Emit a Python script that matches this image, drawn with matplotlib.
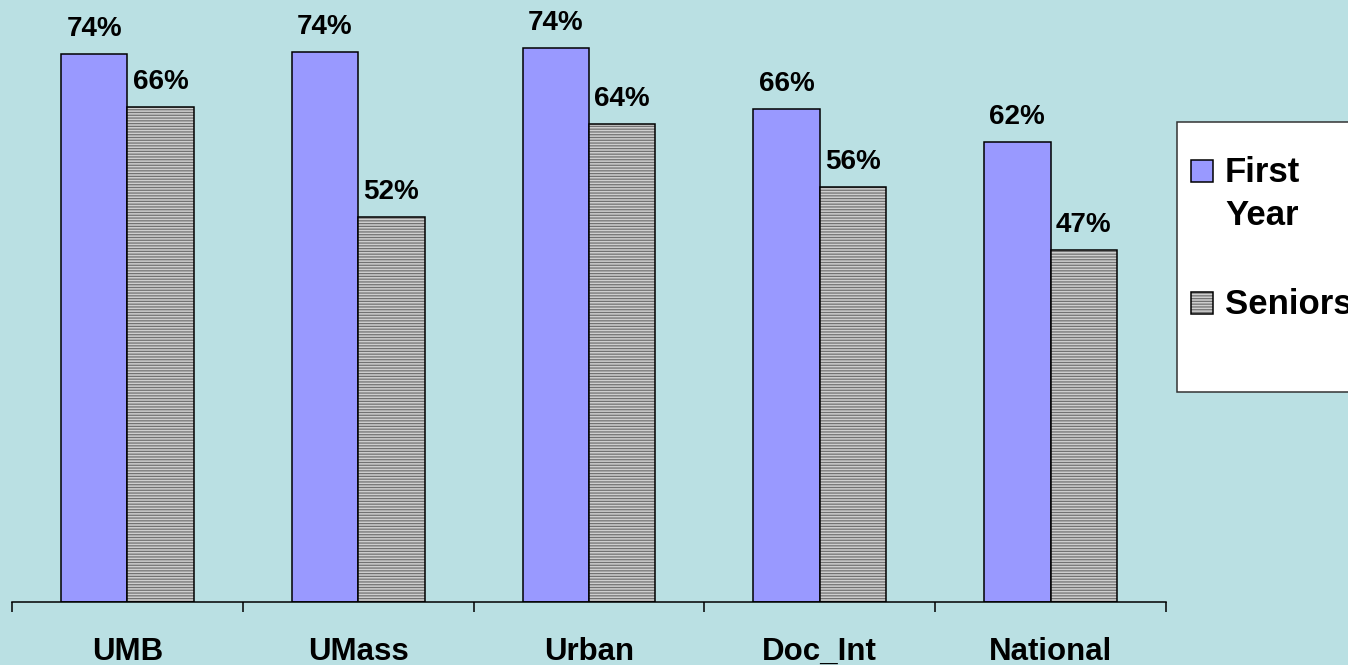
import numpy as np
import matplotlib.pyplot as plt
from matplotlib.patches import Rectangle

plt.rcParams['font.family'] = ['Liberation Sans', 'DejaVu Sans']
plt.rcParams['hatch.linewidth'] = 0.9

categories = ['UMB', 'UMass', 'Urban', 'Doc_Int', 'National']
first_year = [73.6, 73.8, 74.4, 66.2, 61.7]
seniors = [66.4, 51.7, 64.2, 55.7, 47.2]
first_labels = ['74%', '74%', '74%', '66%', '62%']
senior_labels = ['66%', '52%', '64%', '56%', '47%']
series_names = ['First\nYear', 'Seniors']

bg = '#BAE0E3'
blue = '#9999FF'
grey_face = '#CFCFCF'
grey_hatch = '#727272'
W, H = 1348, 665


def px(x, y):
    # pixel position (from top-left) to figure fraction
    return x / W, 1 - y / H


def main():
    fig = plt.figure(figsize=(W / 100, H / 100), dpi=100, facecolor=bg)
    ax = fig.add_axes([12 / W, 63 / H, (1166 - 12) / W, (602 - 6) / H])
    ax.set_facecolor('none')

    x = np.arange(len(categories))
    w = 0.288
    off = 0.144

    ax.bar(x - off, first_year, w, color=blue, edgecolor='black', linewidth=1.1, zorder=2)
    # seniors: hatched fill first, black outline on top
    ax.bar(x + off, seniors, w, color=grey_face, edgecolor=grey_hatch, linewidth=0,
           hatch='------', zorder=2)
    ax.bar(x + off, seniors, w, fill=False, edgecolor='black', linewidth=1.1, zorder=3)

    for xi, v, lab in zip(x - off, first_year, first_labels):
        ax.annotate(lab, (xi, v), xytext=(0, 13), textcoords='offset points',
                    ha='center', va='baseline', fontsize=20, fontweight='bold')
    for xi, v, lab in zip(x + off, seniors, senior_labels):
        ax.annotate(lab, (xi, v), xytext=(0, 13), textcoords='offset points',
                    ha='center', va='baseline', fontsize=20, fontweight='bold')

    ax.set_xlim(-0.5, len(categories) - 0.5)
    ax.set_ylim(0, 80)
    for s in ['top', 'right', 'left']:
        ax.spines[s].set_visible(False)
    ax.spines['bottom'].set_linewidth(1.1)
    ax.set_yticks([])
    ax.set_xticks(np.arange(len(categories) + 1) - 0.5)
    ax.set_xticklabels([])
    ax.set_xticks(x, minor=True)
    ax.set_xticklabels(categories, minor=True, fontsize=22.5, fontweight='bold')
    ax.tick_params(axis='x', which='major', direction='out', length=7.5, width=1.1)
    ax.tick_params(axis='x', which='minor', length=0, pad=25)

    # legend box
    x0, y0 = px(1177, 392)
    x1, y1 = px(1365, 122)
    fig.patches.append(Rectangle((x0, y0), x1 - x0, y1 - y0, transform=fig.transFigure,
                                 facecolor='white', edgecolor='#333333', linewidth=1.1,
                                 zorder=5))
    sq = 22
    for (top, fc, hatch), name, base in zip(
            [(160, blue, None), (292, grey_face, '------')], series_names, [225, 314]):
        sx, sy = px(1191, top + sq)
        fig.patches.append(Rectangle((sx, sy), sq / W, sq / H, transform=fig.transFigure,
                                     facecolor=fc, edgecolor='black' if hatch is None else grey_hatch,
                                     linewidth=0 if hatch else 1.1, hatch=hatch, zorder=6))
        if hatch:
            fig.patches.append(Rectangle((sx, sy), sq / W, sq / H, transform=fig.transFigure,
                                         fill=False, edgecolor='black', linewidth=1.1, zorder=7))
        tx, ty = px(1225, base)
        fig.text(tx, ty, name, ha='left', va='baseline', fontsize=25, fontweight='bold',
                 linespacing=1.4, zorder=8)

    fig.savefig('out.png', dpi=100, facecolor=bg)


if __name__ == '__main__':
    main()
